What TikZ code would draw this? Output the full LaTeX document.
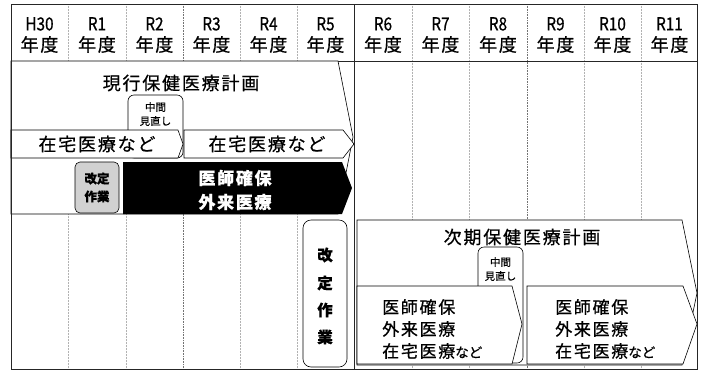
\documentclass[tikz,border=0pt]{standalone}
\usepackage{fontspec}
\setmainfont{Noto Sans CJK JP}
\newfontfamily\jp[LetterSpace=10,FakeBold=0.6]{Noto Sans CJK JP}
\newfontfamily\jpn[FakeBold=0.6]{Noto Sans CJK JP}
\newfontfamily\jpl[FakeBold=0.6,FakeStretch=0.85]{Noto Sans CJK JP}
\begin{document}
\begin{tikzpicture}[x=1pt,y=-1pt,
  grid/.style={gray!60,densely dotted,line width=0.5pt},
  gridd/.style={gray!90!black,densely dotted,line width=0.6pt},
  frame/.style={draw=black!85,line width=0.8pt},
  plan/.style={draw=black,fill=white,line width=0.6pt},
  hdr/.style={font=\jp\fontsize{18}{21}\selectfont,align=center,inner sep=0pt},
  big/.style={font=\jp\fontsize{18}{20}\selectfont,inner sep=0pt},
  mid/.style={font=\jpn\fontsize{10.5}{14}\selectfont,align=center,inner sep=0pt},
  boldtxt/.style={font=\jpn\bfseries\fontsize{12.5}{18}\selectfont,align=center,inner sep=0pt},
  whitetxt/.style={font=\jp\bfseries\fontsize{17}{24}\selectfont,align=center,inner sep=0pt,text=white},
  inner/.style={font=\jp\fontsize{17}{22}\selectfont,align=left,inner sep=0pt,anchor=west},
  rbox/.style={draw=black,fill=white,rounded corners=6pt,line width=0.6pt},
  gbox/.style={draw=black,fill=black!18,rounded corners=5pt,line width=0.6pt}
]
\useasboundingbox (0,0) rectangle (704,373);
\fill[white] (0,0) rectangle (704,373);
% grid
\foreach \x in {68,126,240,297,412,469,584,641}{\draw[grid] (\x,4) -- (\x,369);}
\foreach \x in {183,527}{\draw[gridd] (\x,4) -- (\x,369);}
% header
\draw[frame] (11,61) -- (697,61);
\foreach \x/\t in {39.5/H30,97/R1,154.5/R2,211.5/R3,268.5/R4,325.5/R5,383/R6,440.5/R7,498/R8,555.5/R9,612.5/R10,669.5/R11}{
  \node[hdr] (h\t) at (\x,35) {{\jpl\t}\\年度};
}
% upper plan
\draw[plan] (11,61) -- (338,61) -- (353,137) -- (338,214) -- (11,214) -- cycle;
\node[big] (cur) at (181,83) {現行保健医療計画};
\draw[rbox] (128,95) rectangle (183,158);
\node[mid] (mid1) at (155.5,114) {中間\\見直し};
\draw[plan] (11,130) -- (178,130) -- (183,144) -- (178,158) -- (11,158) -- cycle;
\node[big] (z1) at (97,144) {在宅医療など};
\draw[plan] (184,130) -- (343,130) -- (354,144) -- (343,158) -- (184,158) -- cycle;
\node[big] (z2) at (267,144) {在宅医療など};
\draw[gbox] (75,162) rectangle (119,213);
\node[boldtxt] (kai1) at (97,187.5) {改定\\作業};
\fill[black] (123,162) -- (342,162) -- (352,188) -- (342,214) -- (123,214) -- cycle;
\node[whitetxt] (bl) at (235,190) {医師確保\\外来医療};
% divider
\draw[frame] (354,4) -- (354,369);
% revision box tall
\draw[rbox,rounded corners=8pt] (303,220) rectangle (347,367);
\foreach \y/\c/\n in {255/改/a,283/定/b,310/作/c,337/業/d}{
  \node[font=\jpn\bfseries\fontsize{15.5}{15}\selectfont,inner sep=0pt] (k\n) at (325,\y) {\c};
}
% lower plan
\draw[plan] (357,220) -- (682,220) -- (697,293) -- (682,365) -- (357,365) -- cycle;
\node[big] (nxt) at (522,237) {次期保健医療計画};
\draw[rbox] (478,247) rectangle (523,363);
\node[mid] (mid2) at (500.5,269) {中間\\見直し};
\draw[plan] (357,286) -- (512,286) -- (522,324) -- (512,364) -- (357,364) -- cycle;
\node[inner] (i1) at (382,329) {医師確保\\外来医療\\在宅医療{\jpn\fontsize{13.5}{22}\selectfont など}};
\draw[plan] (527,286) -- (683,286) -- (697,324) -- (683,364) -- (527,364) -- cycle;
\node[inner] (i2) at (555,329) {医師確保\\外来医療\\在宅医療{\jpn\fontsize{13.5}{22}\selectfont など}};
% border
\draw[frame] (11,4) rectangle (697,369);
\end{tikzpicture}
\end{document}
